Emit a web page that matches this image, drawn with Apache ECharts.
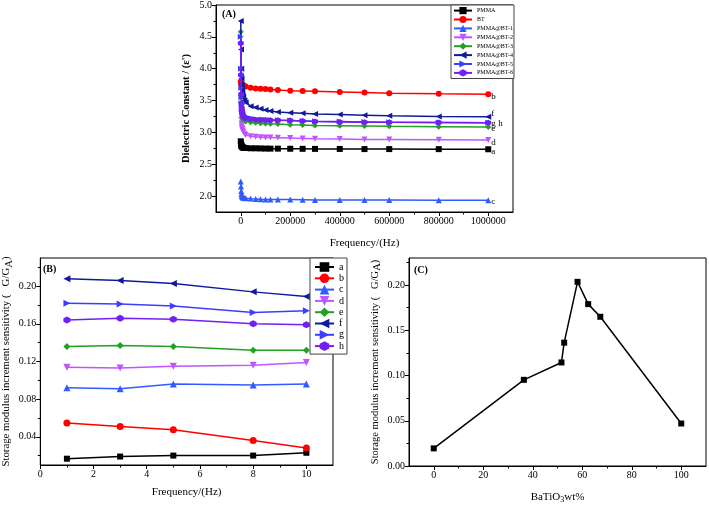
<!DOCTYPE html>
<html><head><meta charset="utf-8">
<script src="https://cdn.jsdelivr.net/npm/echarts@6/dist/echarts.min.js"></script>
<style>html,body{margin:0;padding:0;background:#fff}#c{width:709px;height:508px}</style>
</head><body><div id="c"></div>
<script>
// ---------- Panel A data ----------
const freqA = [100, 1000, 2000, 3000, 4000, 5000, 6000, 8000, 10000, 15000, 20000, 40000, 60000, 80000, 100000, 120000, 150000, 200000, 250000, 300000, 400000, 500000, 600000, 800000, 1000000];
const namesA = ['PMMA', 'BT', 'PMMA@BT-1', 'PMMA@BT-2', 'PMMA@BT-3', 'PMMA@BT-4', 'PMMA@BT-5', 'PMMA@BT-6'];
const lettersA = ['a', 'b', 'c', 'd', 'e', 'f', 'g', 'h'];
const epsPMMA = [2.86, 2.82, 2.80, 2.79, 2.78, 2.775, 2.77, 2.765, 2.76, 2.755, 2.755, 2.75, 2.75, 2.748, 2.746, 2.745, 2.745, 2.743, 2.742, 2.741, 2.74, 2.738, 2.738, 2.737, 2.735];
const epsBT = [3.80, 3.78, 3.77, 3.765, 3.76, 3.755, 3.75, 3.745, 3.74, 3.73, 3.72, 3.70, 3.69, 3.685, 3.68, 3.675, 3.665, 3.655, 3.65, 3.645, 3.635, 3.625, 3.615, 3.605, 3.60];
const epsBT1 = [2.23, 2.15, 2.08, 2.04, 2.02, 2.00, 1.99, 1.98, 1.975, 1.97, 1.965, 1.96, 1.955, 1.95, 1.948, 1.945, 1.945, 1.945, 1.943, 1.94, 1.938, 1.937, 1.937, 1.936, 1.935];
const epsBT2 = [3.45, 3.30, 3.20, 3.14, 3.10, 3.07, 3.05, 3.03, 3.01, 2.98, 2.96, 2.94, 2.93, 2.925, 2.92, 2.918, 2.915, 2.91, 2.905, 2.90, 2.895, 2.89, 2.89, 2.885, 2.88];
const epsBT3 = [4.58, 3.90, 3.55, 3.40, 3.33, 3.29, 3.26, 3.23, 3.21, 3.19, 3.17, 3.16, 3.15, 3.145, 3.14, 3.135, 3.13, 3.12, 3.115, 3.11, 3.105, 3.10, 3.095, 3.09, 3.085];
const epsBT4 = [4.75, 4.30, 4.00, 3.85, 3.75, 3.68, 3.63, 3.58, 3.55, 3.50, 3.47, 3.41, 3.39, 3.37, 3.35, 3.335, 3.32, 3.31, 3.30, 3.29, 3.28, 3.27, 3.26, 3.25, 3.245];
const epsBT5 = [4.50, 4.00, 3.70, 3.55, 3.45, 3.40, 3.36, 3.32, 3.30, 3.27, 3.25, 3.22, 3.21, 3.20, 3.20, 3.195, 3.19, 3.185, 3.18, 3.175, 3.17, 3.165, 3.16, 3.155, 3.15];
const epsBT6 = [4.40, 3.90, 3.60, 3.45, 3.38, 3.33, 3.30, 3.27, 3.25, 3.23, 3.22, 3.21, 3.20, 3.20, 3.195, 3.19, 3.19, 3.185, 3.18, 3.17, 3.165, 3.16, 3.16, 3.155, 3.15];
const ticksAX = [0, 200000, 400000, 600000, 800000, 1000000];
const minorAX = [100000, 300000, 500000, 700000, 900000];
const ticksAY = [2.0, 2.5, 3.0, 3.5, 4.0, 4.5, 5.0];
const minorAY = [2.25, 2.75, 3.25, 3.75, 4.25, 4.75];

// ---------- Panel B data ----------
const freqB = [1, 3, 5, 8, 10];
const namesB = ['a', 'b', 'c', 'd', 'e', 'f', 'g', 'h'];
const sensA = [0.0167, 0.019, 0.020, 0.020, 0.023];
const sensB = [0.0546, 0.051, 0.0475, 0.036, 0.028];
const sensC = [0.092, 0.091, 0.096, 0.095, 0.096];
const sensD = [0.114, 0.113, 0.115, 0.116, 0.119];
const sensE = [0.136, 0.137, 0.136, 0.132, 0.132];
const sensF = [0.208, 0.206, 0.203, 0.194, 0.189];
const sensG = [0.182, 0.181, 0.179, 0.172, 0.174];
const sensH = [0.164, 0.166, 0.165, 0.160, 0.159];
const ticksBX = [0, 2, 4, 6, 8, 10];
const minorBX = [1, 3, 5, 7, 9];
const ticksBY = [0.04, 0.08, 0.12, 0.16, 0.20];
const minorBY = [0.02, 0.06, 0.10, 0.14, 0.18, 0.22];

// ---------- Panel C data ----------
const wtC = [0, 36.4, 51.6, 52.7, 58.1, 62.4, 67.3, 100];
const sensWt = [0.0195, 0.0953, 0.1145, 0.1364, 0.2036, 0.179, 0.165, 0.047];
const ticksCX = [0, 20, 40, 60, 80, 100];
const minorCX = [10, 30, 50, 70, 90];
const ticksCY = [0.00, 0.05, 0.10, 0.15, 0.20];
const minorCY = [0.025, 0.075, 0.125, 0.175, 0.225];

const FONT = 'Liberation Serif';
const colors = ['#000000', '#ff0000', '#2f5bff', '#bf55ff', '#22a022', '#101a9c', '#3d3dff', '#7020f0'];
const HEX = 'path://M0,-1L0.866,-0.5L0.866,0.5L0,1L-0.866,0.5L-0.866,-0.5Z';
const symbols = ['rect', 'circle', 'triangle', 'triangle', 'diamond', 'triangle', 'triangle', HEX];
const rotates = [0, 0, 0, 180, 0, 90, -90, 0];
const endOffsets = [[0, 2], [0, 2], [0, 1], [0, 3], [0, 2], [0, -3], [0, 1], [7, 1]];

const epsA = [epsPMMA, epsBT, epsBT1, epsBT2, epsBT3, epsBT4, epsBT5, epsBT6];
const sensAll = [sensA, sensB, sensC, sensD, sensE, sensF, sensG, sensH];

const grids = [
  {left: 216, top: 5, width: 297, height: 207},
  {left: 36, top: 258, width: 297, height: 207},
  {left: 409, top: 258, width: 297, height: 208}
].map(g => Object.assign(g, {show: true, borderColor: '#000', borderWidth: 1, backgroundColor: 'transparent'}));

const txt = {fontFamily: FONT, color: '#000'};

function mainX(gi, min, max, ticks, fmt, name, gap) {
  return {
    type: 'value', gridIndex: gi, min: min, max: max, position: 'bottom',
    axisLine: {show: true, onZero: false, lineStyle: {color: '#000', width: 1}},
    axisTick: {show: true, length: 4, customValues: ticks, lineStyle: {color: '#000'}},
    axisLabel: Object.assign({customValues: ticks, formatter: fmt, fontSize: 10, margin: 4}, txt),
    splitLine: {show: false},
    name: name, nameLocation: 'middle', nameGap: gap,
    nameTextStyle: Object.assign({fontSize: 11, rich: {
      n: {fontFamily: FONT, fontSize: 11, color: '#000'},
      s: {fontFamily: FONT, fontSize: 8, color: '#000', padding: [6, 0, 0, 0]}
    }}, txt)
  };
}
function mainY(gi, min, max, ticks, fmt, name, gap, nameStyle) {
  return {
    type: 'value', gridIndex: gi, min: min, max: max, position: 'left',
    axisLine: {show: true, onZero: false, lineStyle: {color: '#000', width: 1}},
    axisTick: {show: true, length: 4, customValues: ticks, lineStyle: {color: '#000'}},
    axisLabel: Object.assign({customValues: ticks, formatter: fmt, fontSize: 10, margin: 4}, txt),
    splitLine: {show: false},
    name: name, nameLocation: 'middle', nameGap: gap,
    nameTextStyle: nameStyle
  };
}
function minorAxis(gi, min, max, ticks, pos) {
  return {
    type: 'value', gridIndex: gi, min: min, max: max, position: pos,
    axisLine: {show: false, onZero: false},
    axisTick: {show: true, length: 2.5, customValues: ticks, lineStyle: {color: '#000'}},
    axisLabel: {show: false},
    splitLine: {show: false}
  };
}

const yNameRich = (fs) => Object.assign({fontSize: fs, rich: {
  n: {fontFamily: FONT, fontSize: fs, color: '#000'},
  s: {fontFamily: FONT, fontSize: fs, color: '#000', padding: [0, 0, 0, 0], verticalAlign: 'bottom', lineHeight: fs + 6}
}}, txt);

const xAxes = [
  mainX(0, -100000, 1100000, ticksAX, v => String(v), 'Frequency/(Hz)', 26),
  mainX(1, 0, 11, ticksBX, v => String(v), 'Frequency/(Hz)', 22),
  mainX(2, -10, 110, ticksCX, v => String(v), '{n|BaTiO}{s|3}{n|wt%}', 24),
  minorAxis(0, -100000, 1100000, minorAX, 'bottom'),
  minorAxis(1, 0, 11, minorBX, 'bottom'),
  minorAxis(2, -10, 110, minorCX, 'bottom')
];
const yLabelText = '{n|Storage modulus increment sensitivity (   G/G}{s|A}{n|)}';
const yAxes = [
  mainY(0, 1.75, 5.0, ticksAY, v => v.toFixed(1), "Dielectric Constant / (ε')", 24,
        Object.assign({fontSize: 10.5, fontWeight: 'bold'}, txt)),
  mainY(1, 0.01, 0.23, ticksBY, v => v.toFixed(2), yLabelText, 22, yNameRich(10.8)),
  mainY(2, 0, 0.23, ticksCY, v => v.toFixed(2), yLabelText, 26, yNameRich(10.5)),
  minorAxis(0, 1.75, 5.0, minorAY, 'left'),
  minorAxis(1, 0.01, 0.23, minorBY, 'left'),
  minorAxis(2, 0, 0.23, minorCY, 'left')
];

const series = [];
namesA.forEach((nm, i) => {
  series.push({
    name: nm, type: 'line', xAxisIndex: 0, yAxisIndex: 0,
    data: freqA.map((f, j) => [f, epsA[i][j]]),
    symbol: symbols[i], symbolRotate: rotates[i], symbolSize: 6, showSymbol: true,
    color: colors[i], lineStyle: {width: 1.5, color: colors[i]}, itemStyle: {color: colors[i]},
    endLabel: {show: true, formatter: lettersA[i], distance: 3, offset: endOffsets[i], fontSize: 9, fontFamily: FONT, color: '#000'},
    z: 2 + i * 0.01
  });
});
namesB.forEach((nm, i) => {
  series.push({
    name: nm, type: 'line', xAxisIndex: 1, yAxisIndex: 1,
    data: freqB.map((f, j) => [f, sensAll[i][j]]),
    symbol: symbols[i], symbolRotate: rotates[i], symbolSize: (i === 0 ? 6 : 7),
    color: colors[i], lineStyle: {width: 1.5, color: colors[i]}, itemStyle: {color: colors[i]}
  });
});
series.push({
  name: 'C', type: 'line', xAxisIndex: 2, yAxisIndex: 2,
  data: wtC.map((w, j) => [w, sensWt[j]]),
  symbol: 'rect', symbolSize: 6, color: '#000',
  lineStyle: {width: 1.5, color: '#000'}, itemStyle: {color: '#000'}
});

const option = {
  animation: false,
  backgroundColor: '#fff',
  grid: grids,
  xAxis: xAxes,
  yAxis: yAxes,
  legend: [
    {data: namesA, orient: 'vertical', left: 451, top: 5, itemWidth: 18, itemHeight: 9, itemGap: 1.7,
     padding: [2, 1, 2, 2], backgroundColor: '#fff', borderColor: '#444', borderWidth: 1, selectedMode: false,
     textStyle: {fontFamily: FONT, fontSize: 6, color: '#000'}},
    {data: namesB, orient: 'vertical', left: 310, top: 258, itemWidth: 19, itemHeight: 12, itemGap: 1.3,
     padding: [4, 3, 3, 4], backgroundColor: '#fff', borderColor: '#444', borderWidth: 1, selectedMode: false,
     textStyle: {fontFamily: FONT, fontSize: 10, color: '#000'}}
  ],
  graphic: [
    {type: 'text', left: 222, top: 9, style: {text: '(A)', font: 'bold 10px "Liberation Serif"', fill: '#000'}},
    {type: 'text', left: 43, top: 264, style: {text: '(B)', font: 'bold 10px "Liberation Serif"', fill: '#000'}},
    {type: 'text', left: 414, top: 265, style: {text: '(C)', font: 'bold 10px "Liberation Serif"', fill: '#000'}}
  ],
  series: series
};
const chart = echarts.init(document.getElementById('c'), null, {renderer: 'canvas'});
chart.setOption(option);
</script>
</body></html>
